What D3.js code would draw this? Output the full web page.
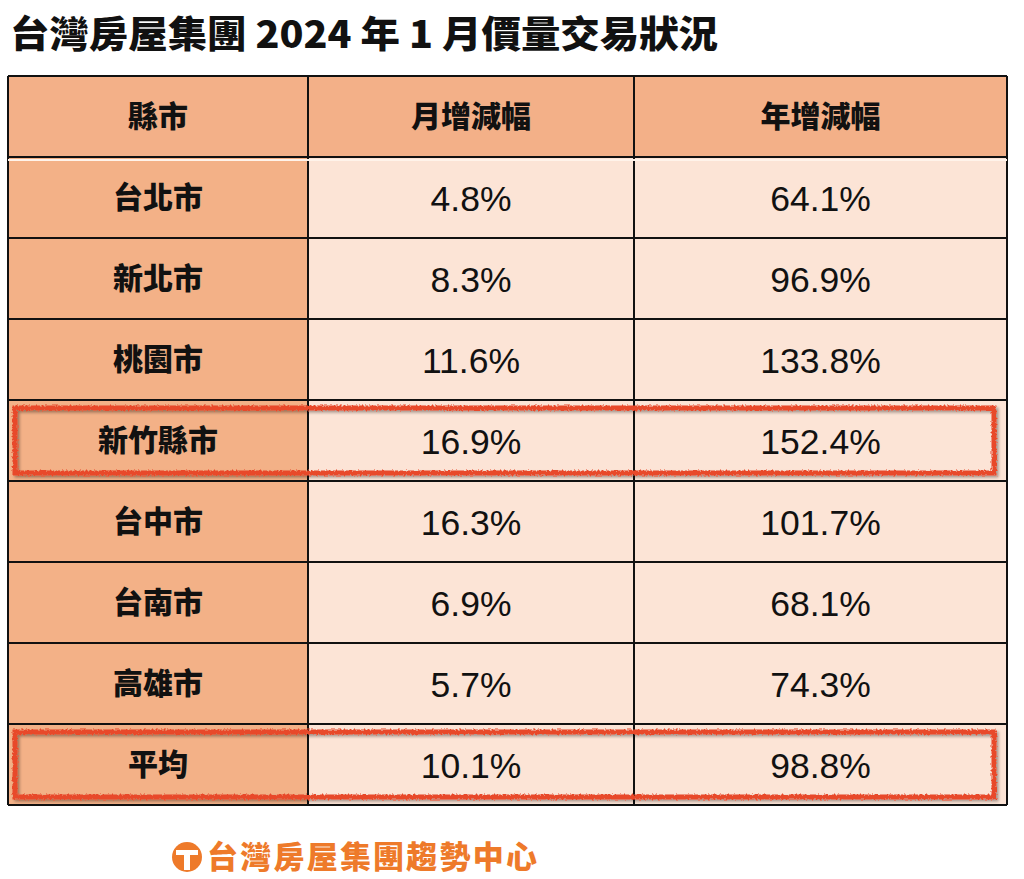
<!DOCTYPE html>
<html>
<head>
<meta charset="utf-8">
<script src="https://cdn.jsdelivr.net/npm/d3@7"></script>
<style>
  body { margin: 0; background: #fff; }
  .cjk { font-family: "Noto Sans CJK TC", "Noto Sans CJK SC", sans-serif; }
  .num { font-family: "Liberation Sans", Arial, sans-serif; }
</style>
</head>
<body>
<svg class="chart"></svg>
<script>
const title = '台灣房屋集團 2024 年 1 月價量交易狀況'
const headers = ['縣市', '月增減幅', '年增減幅']
const cities = ['台北市', '新北市', '桃園市', '新竹縣市', '台中市', '台南市', '高雄市', '平均']
const monthChange = [4.8, 8.3, 11.6, 16.9, 16.3, 6.9, 5.7, 10.1]
const yearChange = [64.1, 96.9, 133.8, 152.4, 101.7, 68.1, 74.3, 98.8]
const highlighted = ['新竹縣市', '平均']
const footer = '台灣房屋集團趨勢中心'

const width = 1024
const height = 879
const tableLeft = 8
const tableTop = 76
const colWidths = [300, 326, 373]
const rowHeight = 81

const chart = d3.select('.chart')
  .attr('width', width)
  .attr('height', height)

const defs = chart.append('defs')
const rough = defs.append('filter').attr('id', 'rough')
  .attr('x', '-5%').attr('y', '-20%').attr('width', '110%').attr('height', '140%')
rough.append('feTurbulence')
  .attr('type', 'fractalNoise')
  .attr('baseFrequency', 0.5)
  .attr('numOctaves', 2)
  .attr('seed', 3)
  .attr('result', 'noise')
rough.append('feDisplacementMap')
  .attr('in', 'SourceGraphic')
  .attr('in2', 'noise')
  .attr('scale', 4)
  .attr('result', 'disp')
rough.append('feGaussianBlur').attr('in', 'SourceAlpha').attr('stdDeviation', 1.5).attr('result', 'blur')
rough.append('feOffset').attr('in', 'blur').attr('dx', 1.5).attr('dy', 2).attr('result', 'shadow')
rough.append('feComponentTransfer').attr('in', 'shadow').attr('result', 'shadowFaint')
  .append('feFuncA').attr('type', 'linear').attr('slope', 0.35)
const merge = rough.append('feMerge')
merge.append('feMergeNode').attr('in', 'shadowFaint')
merge.append('feMergeNode').attr('in', 'disp')

chart.append('text')
  .attr('class', 'cjk')
  .attr('x', 10)
  .attr('y', 48)
  .attr('font-size', 37)
  .attr('font-weight', 900)
  .attr('fill', '#111')
  .attr('textLength', 708)
  .attr('lengthAdjust', 'spacingAndGlyphs')
  .text(title)

const rowKeys = ['header', ...cities]
const yScale = d3.scaleBand()
  .domain(rowKeys)
  .range([tableTop, tableTop + rowHeight * rowKeys.length])

const colEdges = [0, ...d3.cumsum(colWidths)].map(d => tableLeft + d)
const xScale = d3.scaleOrdinal().domain(headers).range(colEdges.slice(0, 3))
const colWidth = d3.scaleOrdinal().domain(headers).range(colWidths)

const rows = cities.map((city, i) => ({
  key: city,
  cells: [
    { col: headers[0], text: city, kind: 'city' },
    { col: headers[1], text: `${monthChange[i].toFixed(1)}%`, kind: 'value' },
    { col: headers[2], text: `${yearChange[i].toFixed(1)}%`, kind: 'value' },
  ],
}))
const allRows = [
  { key: 'header', cells: headers.map(h => ({ col: h, text: h, kind: 'header' })) },
  ...rows,
]

const fills = { header: '#f3b088', city: '#f3b187', value: '#fce4d6' }

const table = chart.append('g').attr('class', 'table')

const rowG = table.selectAll('g.row')
  .data(allRows)
  .enter()
  .append('g')
  .attr('class', 'row')
  .attr('transform', d => `translate(0,${yScale(d.key)})`)

const cell = rowG.selectAll('g.cell')
  .data(d => d.cells)
  .enter()
  .append('g')
  .attr('class', 'cell')
  .attr('transform', d => `translate(${xScale(d.col)},0)`)

cell.append('rect')
  .attr('width', d => colWidth(d.col))
  .attr('height', yScale.bandwidth())
  .attr('fill', d => fills[d.kind])

cell.append('text')
  .attr('class', d => (d.kind === 'value' ? 'num' : 'cjk'))
  .attr('x', d => colWidth(d.col) / 2)
  .attr('y', yScale.bandwidth() / 2)
  .attr('dy', d => (d.kind === 'value' ? '0.37em' : '0.36em'))
  .attr('text-anchor', 'middle')
  .attr('font-size', d => (d.kind === 'value' ? 35.5 : 30))
  .attr('font-weight', d => (d.kind === 'value' ? 400 : 900))
  .attr('fill', '#111')
  .text(d => d.text)

// grid lines
const tableRight = colEdges[colEdges.length - 1]
const tableBottom = yScale.range()[1]
const grid = table.append('g').attr('stroke', '#111').attr('stroke-width', 2)
grid.selectAll('line.h')
  .data(rowKeys.concat(['end']))
  .enter()
  .append('line')
  .attr('x1', tableLeft)
  .attr('x2', tableRight)
  .attr('y1', d => (d === 'end' ? tableBottom : yScale(d)))
  .attr('y2', d => (d === 'end' ? tableBottom : yScale(d)))
grid.selectAll('line.v')
  .data(colEdges)
  .enter()
  .append('line')
  .attr('y1', tableTop)
  .attr('y2', tableBottom)
  .attr('x1', d => d)
  .attr('x2', d => d)
// subtle light line under header
table.append('line')
  .attr('x1', tableLeft).attr('x2', tableRight)
  .attr('y1', yScale(cities[0]) + 3).attr('y2', yScale(cities[0]) + 3)
  .attr('stroke', '#fff3ea').attr('stroke-width', 2)

// red highlight boxes
chart.append('g').attr('class', 'marks')
  .selectAll('rect')
  .data(highlighted)
  .enter()
  .append('rect')
  .attr('x', tableLeft + 7)
  .attr('y', d => yScale(d) + 8)
  .attr('width', tableRight - tableLeft - 20)
  .attr('height', yScale.bandwidth() - 16)
  .attr('fill', 'none')
  .attr('stroke', '#e8482a')
  .attr('stroke-width', 5)
  .attr('filter', 'url(#rough)')

// footer logo
const logo = chart.append('g').attr('transform', 'translate(187,857)')
logo.append('circle').attr('r', 15).attr('fill', '#ee7a2a')
logo.append('path')
  .attr('d', 'M-11,-7 H11 V-2 H3 V13 H-3 V-2 H-11 Z')
  .attr('fill', '#fff')
logo.append('path')
  .attr('d', 'M-13,-11 A17,17 0 0 1 13,-11')
  .attr('fill', 'none')
  .attr('stroke', '#fff')
  .attr('stroke-width', 2)
chart.append('text')
  .attr('class', 'cjk')
  .attr('x', 207)
  .attr('y', 857)
  .attr('dy', '0.36em')
  .attr('font-size', 31)
  .attr('font-weight', 900)
  .attr('fill', '#ee7a2a')
  .attr('textLength', 330)
  .text(footer)
</script>
</body>
</html>
